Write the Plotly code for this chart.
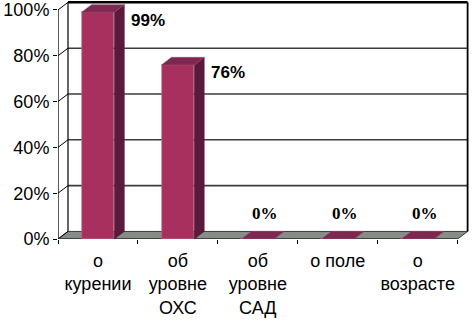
import plotly.graph_objects as go

categories = ["о<br>курении", "об<br>уровне<br>ОХС", "об<br>уровне<br>САД", "о поле", "о<br>возрасте"]
values = [99, 76, 0, 0, 0]
value_labels = ["99%", "76%", "0%", "0%", "0%"]
y_ticks = [0, 20, 40, 60, 80, 100]

FRONT = "#A8305F"
SIDE = "#5A1A3C"
TOP = "#7D2850"
FLOOR = "#868c86"

DX = 0.125   # depth offset in category units
DY = 3.3     # depth offset in percent units
W = 0.205    # half bar width

n = len(categories)
xs = list(range(n))
x0, x1 = -0.5, n - 0.5

fig = go.Figure()

# front faces of bars
fig.add_trace(go.Bar(x=xs, y=values, width=2 * W, marker=dict(color=FRONT, line=dict(color="#c86a8c", width=0.6)),
                     hoverinfo="skip", showlegend=False))

# side and top faces
for i, v in enumerate(values):
    if v > 0:
        fig.add_trace(go.Scatter(
            x=[i + W, i + W + DX, i + W + DX, i + W, i + W],
            y=[0, DY, v + DY, v, 0],
            fill="toself", fillcolor=SIDE, mode="lines", line=dict(color=SIDE, width=0.5),
            hoverinfo="skip", showlegend=False))
    fig.add_trace(go.Scatter(
        x=[i - W, i + W, i + W + DX, i - W + DX, i - W],
        y=[v, v, v + DY, v + DY, v],
        fill="toself", fillcolor=TOP, mode="lines", line=dict(color="#9a4a6c", width=0.6),
        hoverinfo="skip", showlegend=False))

# front axis line
fig.add_trace(go.Scatter(x=[x0, x0], y=[0, y_ticks[-1]], mode="lines", line=dict(color="black", width=1.3),
                         hoverinfo="skip", showlegend=False))

shapes = []
# floor
shapes.append(dict(type="path", xref="x", yref="y", layer="below",
                   path=f"M {x0},0 L {x1},0 L {x1 + DX},{DY} L {x0 + DX},{DY} Z",
                   fillcolor=FLOOR, line=dict(color="#3a3a3a", width=1)))
# back wall gridlines
for t in y_ticks[1:-1]:
    shapes.append(dict(type="line", xref="x", yref="y", layer="below",
                       x0=x0 + DX, x1=x1 + DX, y0=t + DY, y1=t + DY, line=dict(color="#3c3c3c", width=1.6)))
# left wall connectors
for t in y_ticks:
    shapes.append(dict(type="line", xref="x", yref="y", layer="below",
                       x0=x0, x1=x0 + DX, y0=t, y1=t + DY, line=dict(color="black", width=1)))
# back wall borders
shapes.append(dict(type="line", xref="x", yref="y", layer="below",
                   x0=x0 + DX, x1=x1 + DX, y0=y_ticks[-1] + DY, y1=y_ticks[-1] + DY, line=dict(color="black", width=2.5)))
shapes.append(dict(type="line", xref="x", yref="y", layer="below",
                   x0=x1 + DX, x1=x1 + DX, y0=DY, y1=y_ticks[-1] + DY, line=dict(color="black", width=1.8)))
shapes.append(dict(type="line", xref="x", yref="y", layer="below",
                   x0=x0 + DX, x1=x0 + DX, y0=DY, y1=y_ticks[-1] + DY, line=dict(color="black", width=1.2)))
shapes.append(dict(type="line", xref="x", yref="y", layer="below",
                   x0=x0, x1=x1, y0=0, y1=0, line=dict(color="#222", width=1.2)))

annotations = []
for i, (v, lab) in enumerate(zip(values, value_labels)):
    if v > 0:
        annotations.append(dict(x=i + W + DX, y=v, text=lab, showarrow=False, xanchor="left", yanchor="middle",
                                xshift=5, yshift=-8,
                                font=dict(family="Liberation Sans", size=17, color="black", weight="bold")))
    else:
        annotations.append(dict(x=i + DX / 2, y=v, text=lab, showarrow=False, xanchor="center", yanchor="middle",
                                xshift=2, yshift=26,
                                font=dict(family="Liberation Serif", size=17, color="black", weight="bold")))

fig.update_layout(
    width=473, height=323,
    margin=dict(l=58, r=3, t=1, b=84, autoexpand=False),
    paper_bgcolor="white", plot_bgcolor="white",
    shapes=shapes, annotations=annotations,
    showlegend=False, bargap=0,
    xaxis=dict(range=[x0, x1 + DX + 0.03], tickvals=xs, ticktext=categories, ticks="", automargin=False,
               showgrid=False, zeroline=False, showline=False, ticklabelstandoff=9,
               tickfont=dict(family="Liberation Sans", size=18, color="black"),
               minor=dict(tickvals=[x0 + k for k in range(n + 1)], ticks="outside", ticklen=4,
                          tickcolor="black", tickwidth=1, showgrid=False)),
    yaxis=dict(range=[0, y_ticks[-1] + DY + 0.6], tickvals=y_ticks, ticktext=[f"{t}%" for t in y_ticks],
               ticks="outside", ticklen=4, tickcolor="black", showgrid=False, zeroline=False, showline=False,
               automargin=False,
               tickfont=dict(family="Liberation Sans", size=18, color="black")),
)

fig.write_html("out.html", config={"displayModeBar": False},
               post_script="document.body.style.margin='0';document.body.style.padding='0';")
